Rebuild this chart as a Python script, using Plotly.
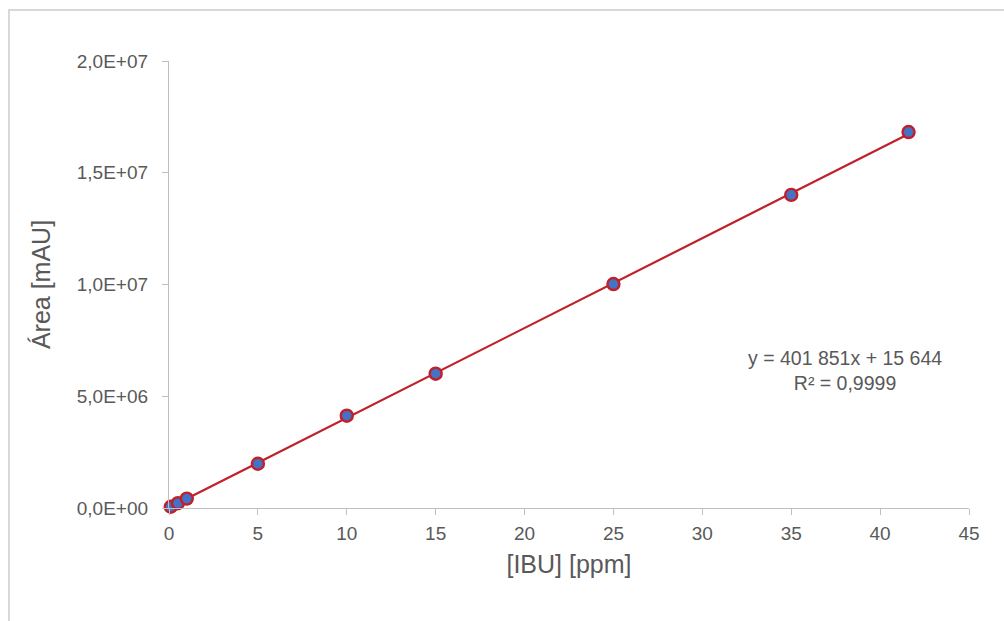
import plotly.graph_objects as go

# Calibration data: ibuprofen concentration vs. peak area
conc_ppm = [0.1, 0.5, 1, 5, 10, 15, 25, 35, 41.6]
area_mau = [55000, 215000, 420000, 1980000, 4130000, 6010000, 10020000, 14010000, 16820000]

# Linear fit reported on the chart
slope = 401851
intercept = 15644
r_squared_label = "R² = 0,9999"
equation_label = "y = 401 851x + 15 644"

x_ticks = [0, 5, 10, 15, 20, 25, 30, 35, 40, 45]
y_ticks = [0, 5e6, 1e7, 1.5e7, 2e7]
y_tick_text = ["0,0E+00", "5,0E+06", "1,0E+07", "1,5E+07", "2,0E+07"]

W, H = 1004, 621
ML, MR, MT, MB = 169, 35, 61, 113

fit_x = [min(conc_ppm), max(conc_ppm)]
fit_y = [slope * v + intercept for v in fit_x]

text_color = "#595959"
axis_color = "#BFBFBF"
font_family = "Liberation Sans, Arial, sans-serif"

fig = go.Figure()

fig.add_trace(go.Scatter(
    x=fit_x, y=fit_y, mode="lines",
    line=dict(color="#C0202A", width=2.2),
    showlegend=False, hoverinfo="skip", cliponaxis=False,
))

fig.add_trace(go.Scatter(
    x=conc_ppm, y=area_mau, mode="markers",
    marker=dict(size=12, color="#4472C4", line=dict(color="#C0202A", width=2.4)),
    showlegend=False, hoverinfo="x+y", cliponaxis=False,
))

# outer chart frame (pixel positions converted to paper coordinates)
pw, ph = W - ML - MR, H - MT - MB
def px_to_paper_x(px):
    return (px - ML) / pw
def px_to_paper_y(py):
    return (H - MB - py) / ph

fig.add_shape(
    type="rect", xref="paper", yref="paper",
    x0=px_to_paper_x(9), x1=px_to_paper_x(1100),
    y0=px_to_paper_y(700), y1=px_to_paper_y(10),
    line=dict(color="#D9D9D9", width=2), fillcolor="rgba(0,0,0,0)", layer="below",
)

fig.add_annotation(
    x=px_to_paper_x(845), y=px_to_paper_y(370), xref="paper", yref="paper",
    xanchor="center", yanchor="middle",
    text=equation_label + "<br>" + r_squared_label, showarrow=False,
    align="center", font=dict(size=19.5, color=text_color, family=font_family),
)

fig.update_layout(
    width=W, height=H,
    margin=dict(l=ML, r=MR, t=MT, b=MB),
    paper_bgcolor="white", plot_bgcolor="white",
    font=dict(family=font_family, color=text_color, size=19),
    xaxis=dict(
        range=[0, 45], tickvals=x_ticks, ticktext=[str(v) for v in x_ticks],
        showgrid=False, zeroline=False, showline=True, linecolor=axis_color, linewidth=1.3,
        ticks="outside", ticklen=6, tickcolor=axis_color, tickwidth=1.3,
        tickfont=dict(size=19, color=text_color), ticklabelstandoff=2,
        title=dict(text="[IBU] [ppm]", font=dict(size=25, color=text_color), standoff=12),
    ),
    yaxis=dict(
        range=[0, 2e7], tickvals=y_ticks, ticktext=y_tick_text,
        showgrid=False, zeroline=False, showline=True, linecolor=axis_color, linewidth=1.3,
        ticks="outside", ticklen=6, tickcolor=axis_color, tickwidth=1.3,
        tickfont=dict(size=19, color=text_color), ticklabelstandoff=10,
        title=dict(text="Área [mAU]", font=dict(size=25, color=text_color), standoff=18),
    ),
)

fig.write_html("out.html")
